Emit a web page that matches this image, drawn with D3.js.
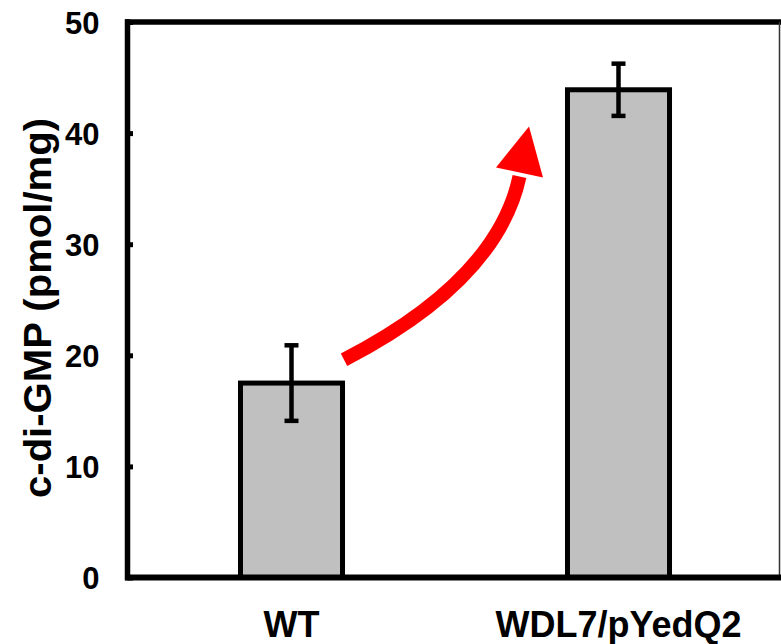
<!DOCTYPE html>
<html>
<head>
<meta charset="utf-8">
<script src="https://cdn.jsdelivr.net/npm/d3@7"></script>
<style>
  html, body { margin: 0; padding: 0; background: #fff; }
  svg { display: block; }
  text { font-family: "Liberation Sans", Arial, "DejaVu Sans", sans-serif; font-weight: bold; fill: #000; }
</style>
</head>
<body>
<svg id="chart" width="781" height="644"></svg>
<script>
const categories = ["WT", "WDL7/pYedQ2"];
const values = [17.5, 43.9];
const errors = [3.4, 2.35];
const yTicks = [0, 10, 20, 30, 40, 50];
const yLabel = "c-di-GMP (pmol/mg)";

const W = 781, H = 644;
const svg = d3.select("#chart");

const x = d3.scaleBand().domain(categories).range([128, 782]).padding(0);
const y = d3.scaleLinear().domain([0, 50]).range([577.5, 22]);
const barW = x.bandwidth() * 0.312;
const cx = c => x(c) + x.bandwidth() / 2;

// Frame: top thick, right thin
svg.append("line").attr("x1", 125).attr("x2", W).attr("y1", y(50)).attr("y2", y(50))
  .attr("stroke", "#000").attr("stroke-width", 5.5);
svg.append("line").attr("x1", 779.5).attr("x2", 779.5).attr("y1", y(50)).attr("y2", y(0))
  .attr("stroke", "#333").attr("stroke-width", 1.5);

// Bars
svg.selectAll("rect.bar").data(categories).join("rect")
  .attr("class", "bar")
  .attr("x", c => cx(c) - barW / 2)
  .attr("width", barW)
  .attr("y", (c, i) => y(values[i]))
  .attr("height", (c, i) => y(0) - y(values[i]))
  .attr("fill", "#c0c0c0").attr("stroke", "#000").attr("stroke-width", 5);

// Error bars
const eb = svg.selectAll("g.err").data(categories).join("g").attr("class", "err");
eb.append("line")
  .attr("x1", c => cx(c)).attr("x2", c => cx(c))
  .attr("y1", (c, i) => y(values[i] + errors[i]))
  .attr("y2", (c, i) => y(values[i] - errors[i]))
  .attr("stroke", "#000").attr("stroke-width", 4.5);
[1, -1].forEach(s => {
  eb.append("line")
    .attr("x1", c => cx(c) - 7).attr("x2", c => cx(c) + 7)
    .attr("y1", (c, i) => y(values[i] + s * errors[i]))
    .attr("y2", (c, i) => y(values[i] + s * errors[i]))
    .attr("stroke", "#000").attr("stroke-width", 4.5);
});

// Y axis
const yAxis = svg.append("g").attr("transform", `translate(127.5,0)`)
  .call(d3.axisLeft(y).tickValues(yTicks).tickSizeInner(-5.5).tickSizeOuter(0).tickPadding(28));
yAxis.select(".domain").remove();
yAxis.selectAll(".tick line").attr("stroke", "#000").attr("stroke-width", 5).attr("x1", 0);
yAxis.selectAll(".tick text").attr("font-size", 31).attr("dy", "0.36em")
  .attr("font-family", "'Liberation Sans', Arial, sans-serif").attr("font-weight", "bold");
svg.append("line").attr("x1", 127.5).attr("x2", 127.5).attr("y1", y(50) - 2.75).attr("y2", y(0) + 2.75)
  .attr("stroke", "#000").attr("stroke-width", 5.5);

// X axis
const xAxis = svg.append("g").attr("transform", `translate(0,${y(0)})`)
  .call(d3.axisBottom(x).tickSize(0).tickSizeOuter(0));
xAxis.select(".domain").remove();
xAxis.selectAll(".tick text").attr("y", 59.5).attr("dy", 0).attr("font-size", 36)
  .attr("font-family", "'Liberation Sans', Arial, sans-serif").attr("font-weight", "bold");
svg.append("line").attr("x1", 125).attr("x2", W).attr("y1", y(0)).attr("y2", y(0))
  .attr("stroke", "#000").attr("stroke-width", 6);

// Y label
svg.append("text")
  .attr("transform", `translate(51,${(118 + 498) / 2}) rotate(-90)`)
  .attr("text-anchor", "middle").attr("font-size", 39)
  .attr("textLength", 380).attr("lengthAdjust", "spacingAndGlyphs")
  .text(yLabel);

// Red arrow annotation (anchored to the bars via the scales)
const p0 = [cx("WT") + barW / 2 + 1.5, y(19.6)];
const pc = [cx("WDL7/pYedQ2") - 121.5, y(26.7)];
const p1 = [cx("WDL7/pYedQ2") - 99, y(36.45)];
const tip = [cx("WDL7/pYedQ2") - 89.5, y(40.6)];
const hl = [cx("WDL7/pYedQ2") - 122.5, y(36.9)];
const hr = [cx("WDL7/pYedQ2") - 75.5, y(36.0)];
svg.append("path")
  .attr("d", `M${p0[0]},${p0[1]} Q${pc[0]},${pc[1]} ${p1[0]},${p1[1] + 4}`)
  .attr("fill", "none").attr("stroke", "#ff0000").attr("stroke-width", 14);
svg.append("path")
  .attr("d", `M${tip[0]},${tip[1]} L${hr[0]},${hr[1]} L${hl[0]},${hl[1]} Z`)
  .attr("fill", "#ff0000");
</script>
</body>
</html>
